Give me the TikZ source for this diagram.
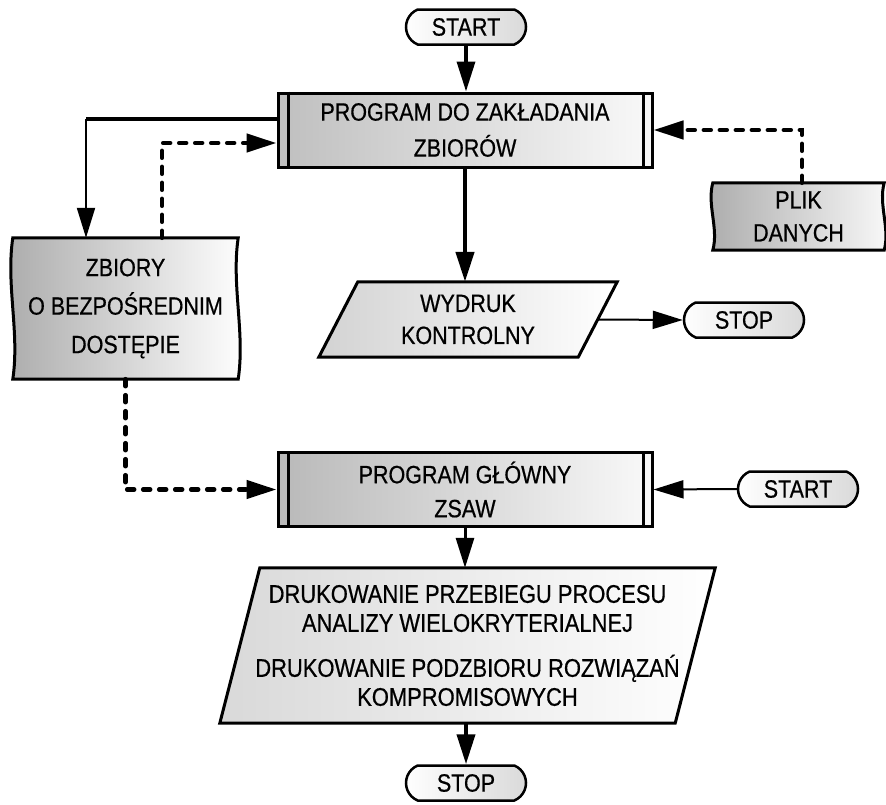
\documentclass[tikz,border=0pt]{standalone}
\usepackage{fontspec}
\setmainfont[FakeStretch=0.86, FakeBold=0.6]{Liberation Sans}
\usetikzlibrary{arrows.meta,calc,shapes.misc}
\pgfdeclarelayer{bg}
\pgfsetlayers{bg,main}

\tikzset{
  every node/.style={font=\fontsize{25}{34}\selectfont, align=center, inner sep=0pt},
  procbox/.style={draw, line width=3pt, minimum width=374pt, minimum height=74pt,
    left color=gray!50, right color=gray!5},
  pill/.style={rounded rectangle, rounded rectangle arc length=135, draw, line width=2.5pt,
    minimum width=120pt, minimum height=35pt, left color=white, right color=gray!30},
  outline/.style={draw, line width=3pt, line join=miter},
  tip/.style={-{Triangle[length=30pt,width=18pt]}},
  flow/.style={line width=2pt, tip},
  dflow/.style={line width=4.5pt, line cap=round, dash pattern=on 7pt off 9pt, tip},
}

\begin{document}
\begin{tikzpicture}[x=1pt,y=-1pt]
\useasboundingbox (0,0) rectangle (886,804);

% terminators
\node[pill] (start1) at (466,27) {START};
\node[pill] (stop1) at (744,320) {STOP};
\node[pill] (start2) at (798,489) {START};
\node[pill] (stop2) at (466,783) {STOP};

% predefined processes
\node[procbox, font=\fontsize{25}{36}\selectfont] (p1) at (465,130) {PROGRAM DO ZAKŁADANIA\\ZBIORÓW};
\node[procbox, left color=gray!55] (p2) at (465,489.5) {PROGRAM GŁÓWNY\\ZSAW};
\foreach \b in {p1,p2}{
  \draw[line width=2.5pt] ([xshift=12pt]\b.north west) -- ([xshift=12pt]\b.south west);
  \draw[line width=2.5pt] ([xshift=-10pt]\b.north east) -- ([xshift=-10pt]\b.south east);
}

% stored data
\node[minimum width=225pt, minimum height=141pt, font=\fontsize{25}{38.5}\selectfont] (zb) at (125.5,308.5)
  {ZBIORY\\O BEZPOŚREDNIM\\DOSTĘPIE};
\node[minimum width=171pt, minimum height=67pt, font=\fontsize{25}{33}\selectfont] (plik) at (798.5,216.5)
  {PLIK\\DANYCH};

% input / output
\node[minimum width=259pt, minimum height=75pt, font=\fontsize{25}{32}\selectfont] (wy) at (468,319.5)
  {WYDRUK\\KONTROLNY};
\node[minimum width=455pt, minimum height=155pt, font=\fontsize{25.5}{29}\selectfont] (pp) at (467.5,645.5)
  {DRUKOWANIE PRZEBIEGU PROCESU\\ANALIZY WIELOKRYTERIALNEJ\\[16pt]
   DRUKOWANIE PODZBIORU ROZWIĄZAŃ\\KOMPROMISOWYCH};

\begin{pgfonlayer}{bg}
  \path[outline, left color=gray!65, right color=white]
    (zb.north west) -- (zb.north east)
    .. controls ($(zb.north east)+(-7,47)$) and ($(zb.south east)+(7,-47)$) .. (zb.south east)
    -- (zb.south west)
    .. controls ($(zb.south west)+(7,-47)$) and ($(zb.north west)+(-7,47)$) .. (zb.north west) -- cycle;
  \path[outline, left color=gray!65, right color=gray!5]
    (plik.north west) -- (plik.north east)
    .. controls ($(plik.north east)+(-6,22)$) and ($(plik.south east)+(6,-22)$) .. (plik.south east)
    -- (plik.south west)
    .. controls ($(plik.south west)+(6,-22)$) and ($(plik.north west)+(-6,22)$) .. (plik.north west) -- cycle;
  \path[outline, left color=gray!35, right color=white]
    ($(wy.north west)+(19.5,0)$) -- ($(wy.north east)+(19.5,0)$)
    -- ($(wy.south east)+(-19.5,0)$) -- ($(wy.south west)+(-19.5,0)$) -- cycle;
  \path[outline, left color=gray!30, right color=white]
    ($(pp.north west)+(20,0)$) -- ($(pp.north east)+(20,0)$)
    -- ($(pp.south east)+(-20,0)$) -- ($(pp.south west)+(-20,0)$) -- cycle;
\end{pgfonlayer}

% connectors
\coordinate (c1) at (86,119);
\draw[flow, line width=3.5pt] (start1.south) -- (start1.south |- p1.north);
\draw[line width=4pt] ([yshift=11pt]p1.west) -- (c1);
\draw[flow] (c1) -- (c1 |- zb.north);
\draw[dflow] ([xshift=36.5pt]zb.north) |- ([yshift=-13pt]p1.west);
\draw[dflow] ([xshift=3.5pt]plik.north) |- (p1.east);
\draw[flow, line width=4.5pt] (p1.south) -- (p1.south |- wy.north);
\draw[flow] (wy.east) -- (stop1.west);
\draw[dflow] (zb.south) |- (p2.west);
\draw[flow] (start2.west) -- (p2.east);
\draw[flow, line width=3pt] (p2.south) -- (p2.south |- pp.north);
\draw[flow, line width=4pt] (stop2.north |- pp.south) -- (stop2.north);
\end{tikzpicture}
\end{document}
